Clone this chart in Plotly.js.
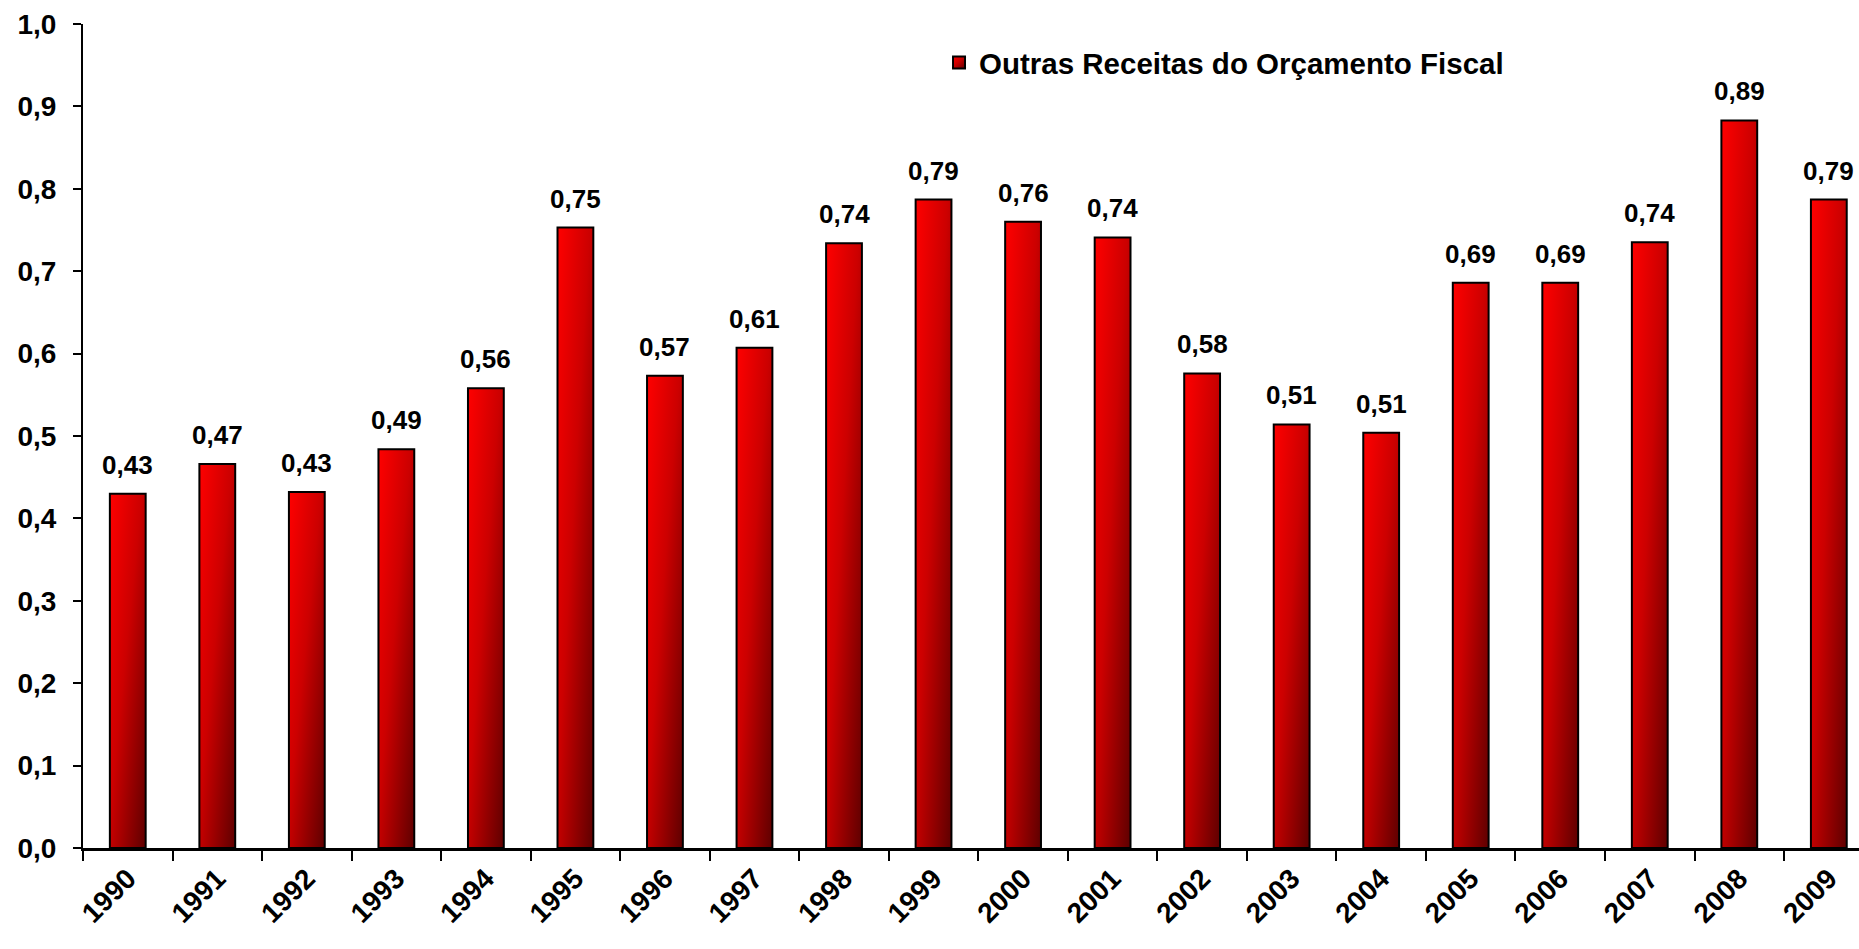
<!DOCTYPE html>
<html>
<head>
<meta charset="utf-8">
<script src="https://cdn.plot.ly/plotly-3.0.1.min.js"></script>
<style>
  html, body { margin: 0; padding: 0; background: #ffffff; overflow: hidden; }
  #chart { width: 1859px; height: 949px; }
</style>
</head>
<body>
<div id="chart"></div>
<script>
// ---- Data ----
const years = ["1990","1991","1992","1993","1994","1995","1996","1997","1998","1999",
               "2000","2001","2002","2003","2004","2005","2006","2007","2008","2009"];
const values = [0.430, 0.466, 0.432, 0.484, 0.558, 0.753, 0.573, 0.607, 0.734, 0.787,
                0.760, 0.741, 0.576, 0.514, 0.504, 0.686, 0.686, 0.735, 0.883, 0.787];
const labels = ["0,43","0,47","0,43","0,49","0,56","0,75","0,57","0,61","0,74","0,79",
                "0,76","0,74","0,58","0,51","0,51","0,69","0,69","0,74","0,89","0,79"];
const seriesName = "Outras Receitas do Orçamento Fiscal";

const FONT = "'Liberation Sans', Arial, sans-serif";

const trace = {
  type: "bar",
  x: years,
  y: values,
  name: seriesName,
  marker: { color: "#e00000", line: { color: "#000000", width: 2 } },
  hoverinfo: "skip",
  showlegend: true
};

// data labels as annotations, positioned by category index through the axis
const annotations = years.map((yr, i) => ({
  x: i, y: values[i], xref: "x", yref: "y",
  text: "<b>" + labels[i] + "</b>",
  showarrow: false, yanchor: "bottom", xanchor: "center", yshift: 12,
  font: { family: FONT, size: 26, color: "#000000" }
}));

const layout = {
  width: 1859, height: 949,
  margin: { l: 83, r: 0, t: 24, b: 101, pad: 0 },
  paper_bgcolor: "#ffffff", plot_bgcolor: "#ffffff",
  separators: ",.",
  bargap: 0.6,
  showlegend: true,
  legend: {
    x: 0.482, y: 0.953, xanchor: "left", yanchor: "middle",
    font: { family: FONT, size: 29.5, color: "#000000", weight: "bold" },
    bgcolor: "rgba(0,0,0,0)", borderwidth: 0
  },
  xaxis: {
    type: "category",
    range: [-0.5, 19.337],
    showline: true, linecolor: "#000000", linewidth: 3,
    ticks: "outside", tickson: "boundaries", ticklen: 10, tickwidth: 2, tickcolor: "#000000",
    tickangle: -45,
    tickfont: { family: FONT, size: 28, color: "#000000", weight: "bold" },
    showgrid: false, zeroline: false, fixedrange: true
  },
  yaxis: {
    range: [0, 1.0], dtick: 0.1, tick0: 0, tickformat: ".1f",
    showline: true, linecolor: "#000000", linewidth: 2,
    ticks: "outside", ticklen: 8, tickwidth: 2, tickcolor: "#000000",
    tickfont: { family: FONT, size: 28, color: "#000000", weight: "bold" },
    ticklabelstandoff: 11,
    showgrid: false, zeroline: false, fixedrange: true
  },
  annotations: annotations
};

Plotly.newPlot("chart", [trace], layout, { displayModeBar: false, staticPlot: true }).then(gd => {
  const ns = "http://www.w3.org/2000/svg";
  const svg = gd.querySelector("svg.main-svg");
  let defs = svg.querySelector("defs");
  if (!defs) { defs = document.createElementNS(ns, "defs"); svg.insertBefore(defs, svg.firstChild); }
  const grad = document.createElementNS(ns, "linearGradient");
  grad.setAttribute("id", "barGrad");
  grad.setAttribute("x1", "0"); grad.setAttribute("y1", "0");
  grad.setAttribute("x2", "1"); grad.setAttribute("y2", "1");
  [["0", "#ff0000"], ["0.45", "#cc0000"], ["1", "#5e0000"]].forEach(([o, c]) => {
    const s = document.createElementNS(ns, "stop");
    s.setAttribute("offset", o); s.setAttribute("stop-color", c);
    grad.appendChild(s);
  });
  defs.appendChild(grad);
  gd.querySelectorAll(".trace.bars .point path").forEach(p => { p.style.fill = "url(#barGrad)"; });
  gd.querySelectorAll(".legendpoints path").forEach(p => {
    p.style.fill = "url(#barGrad)"; p.style.stroke = "#000"; p.style.strokeWidth = "2px";
  });
});
</script>
</body>
</html>
